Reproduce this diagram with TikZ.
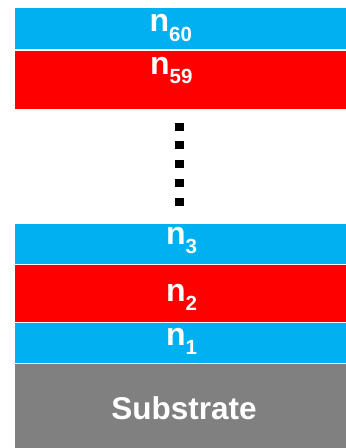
\documentclass[tikz,border=0pt]{standalone}
\usepackage{fontspec}
\setmainfont{Liberation Sans}
\definecolor{layerblue}{HTML}{00B0F0}
\definecolor{layerred}{HTML}{FF0000}
\definecolor{subgray}{HTML}{808080}
% layer label: bold "n" with a lowered, smaller index
\newcommand{\layerlabel}[1]{\fontsize{32}{32}\selectfont\bfseries n\raisebox{-9.3pt}{\fontsize{20.5}{20.5}\selectfont\bfseries #1}}
\begin{document}
\begin{tikzpicture}[x=1pt,y=-1pt,
  blayer/.style={fill=layerblue},
  rlayer/.style={fill=layerred},
  sublayer/.style={fill=subgray},
  lbl/.style={text=white,inner sep=0pt,anchor=base west},
  dotsq/.style={fill=black}]
\useasboundingbox (0,0) rectangle (346,448);
% stack of layers, top to bottom
\path[blayer]   (15,7.5)   rectangle (346,49);
\path[rlayer]   (15,50.7)  rectangle (346,109);
\path[blayer]   (15,224)   rectangle (346,264);
\path[rlayer]   (15,265)   rectangle (346,322.3);
\path[blayer]   (15,323.3) rectangle (346,363.3);
\path[sublayer] (15,364.3) rectangle (346,448);
% vertical ellipsis between the upper and lower layers
\foreach \t in {122.7,141.4,160.1,178.8,197.5}
  \path[dotsq] (175,\t) rectangle (184,\t+8);
% labels
\node[lbl] (n60) at (149.5,31.7) {\layerlabel{60}};
\node[lbl] (n59) at (150,74)  {\layerlabel{59}};
\node[lbl] (n3)  at (165.8,244) {\layerlabel{3}};
\node[lbl] (n2)  at (165.8,301.5) {\layerlabel{2}};
\node[lbl] (n1)  at (165.8,345) {\layerlabel{1}};
\node[text=white,inner sep=0pt,anchor=base] (sub) at (184,419.3)
  {\fontsize{31.5}{31.5}\selectfont\bfseries Substrate};
\end{tikzpicture}
\end{document}
